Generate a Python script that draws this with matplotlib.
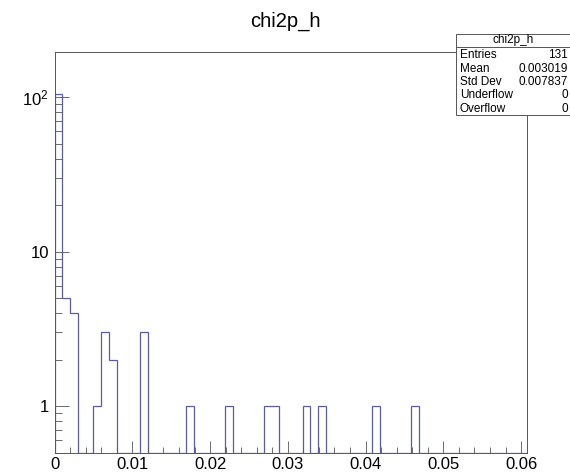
import numpy as np
import matplotlib
matplotlib.use("Agg")
import matplotlib.pyplot as plt
from matplotlib.patches import Rectangle
from matplotlib.lines import Line2D
from matplotlib.ticker import LogLocator, MultipleLocator, FixedLocator, FixedFormatter

plt.rcParams["font.family"] = ["Liberation Sans", "DejaVu Sans"]
plt.rcParams["mathtext.default"] = "regular"

title = "chi2p_h"
x_min, x_max = 0.0, 0.0608
n_bins = 61
counts = [105, 5, 4, 0, 0, 1, 3, 2, 0, 0,
          0, 3, 0, 0, 0, 0, 0, 1, 0, 0,
          0, 0, 1, 0, 0, 0, 0, 1, 1, 0,
          0, 0, 1, 0, 1, 0, 0, 0, 0, 0,
          0, 1, 0, 0, 0, 0, 1, 0, 0, 0,
          0, 0, 0, 0, 0, 0, 0, 0, 0, 0, 0]
x_ticks = [0, 0.01, 0.02, 0.03, 0.04, 0.05, 0.06]
x_labels = ["0", "0.01", "0.02", "0.03", "0.04", "0.05", "0.06"]
y_ticks = [1, 10, 100]
y_labels = ["1", "10", "$10^{2}$"]
stats_names = ["Entries", "Mean", "Std Dev", "Underflow", "Overflow"]
stats_values = ["131", "0.003019", "0.007837", "0", "0"]

W, H = 570, 472
fig = plt.figure(figsize=(W / 100, H / 100), dpi=100)
ax = fig.add_axes([54.6 / W, 1 - 452.7 / H, (527.3 - 54.6) / W, (452.7 - 52.0) / H])

y_bot, y_top = 0.5, 196
edges = np.linspace(x_min, x_max, n_bins + 1)
vals = np.array(counts, dtype=float)
vals = np.where(vals > 0, vals, y_bot)
ax.stairs(vals, edges, baseline=y_bot, color="#5c5ca6", lw=0.9)

ax.set_yscale("log")
ax.set_xlim(x_min, x_max)
ax.set_ylim(y_bot, y_top)

ax.xaxis.set_major_locator(FixedLocator(x_ticks))
ax.xaxis.set_major_formatter(FixedFormatter(x_labels))
ax.xaxis.set_minor_locator(MultipleLocator(0.002))
ax.yaxis.set_major_locator(FixedLocator(y_ticks))
ax.yaxis.set_major_formatter(FixedFormatter(y_labels))
ax.yaxis.set_minor_locator(LogLocator(base=10, subs=np.arange(2, 10)))
ax.yaxis.set_minor_formatter(FixedFormatter([]))

ax.tick_params(axis="both", which="both", direction="in", top=False, right=False,
               width=0.6, color="#555555")
ax.tick_params(axis="x", which="major", length=8.5, labelsize=12, pad=3)
ax.tick_params(axis="x", which="minor", length=4.3)
ax.tick_params(axis="y", which="major", length=10, labelsize=12, pad=4)
ax.tick_params(axis="y", which="minor", length=5)
for s in ax.spines.values():
    s.set_linewidth(0.7)
    s.set_color("#555555")

fig.text(0.5, 1 - 21 / H, title, ha="center", va="center", fontsize=14.5)

# stats box
bx0, by0, by1 = 456 / W, 1 - 114.7 / H, 1 - 34.3 / H
fig.add_artist(Rectangle((bx0, by0), 1.0 - bx0 + 0.01, by1 - by0, transform=fig.transFigure,
                         facecolor="white", edgecolor="#555555", lw=0.7, zorder=5))
hy = 1 - 46.7 / H
fig.add_artist(Line2D([bx0, 1.0], [hy, hy], transform=fig.transFigure,
                      color="#555555", lw=0.7, zorder=6))
fig.text((bx0 + 1.0) / 2, 1 - 40.5 / H, title, ha="center", va="center",
         fontsize=8.5, zorder=7)
for i, (n, v) in enumerate(zip(stats_names, stats_values)):
    yy = 1 - (55 + 13.5 * i) / H
    fig.text(460 / W, yy, n, ha="left", va="center", fontsize=8.5, zorder=7)
    fig.text(568 / W, yy, v, ha="right", va="center", fontsize=8.5, zorder=7)

fig.savefig("out.png", dpi=100)
